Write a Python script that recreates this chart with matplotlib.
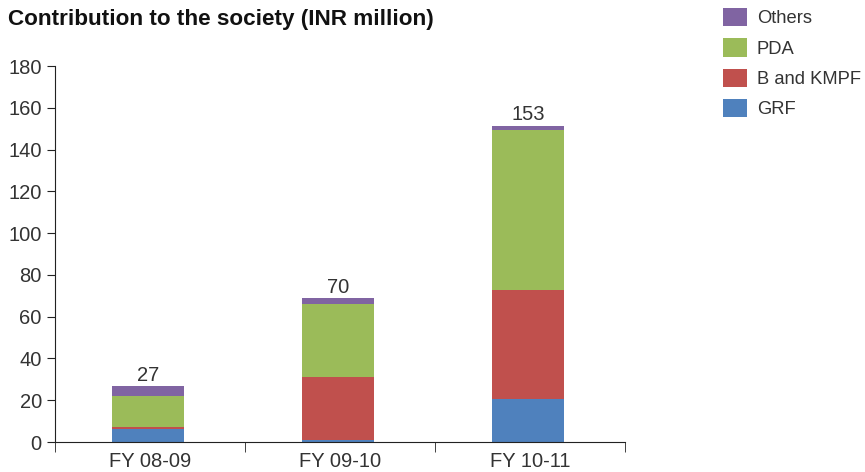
import matplotlib
matplotlib.use("Agg")
import matplotlib.pyplot as plt
import numpy as np

categories = ["FY 08-09", "FY 09-10", "FY 10-11"]
grf = [6.4, 1.0, 20.7]
b_kmpf = [1.0, 29.9, 51.9]
pda = [14.4, 35.0, 76.9]
others = [4.8, 2.9, 1.9]
totals = [27, 70, 153]
series_names = ["GRF", "B and KMPF", "PDA", "Others"]
colors = ["#4F81BD", "#C0504D", "#9BBB59", "#8064A2"]
y_ticks = [0, 20, 40, 60, 80, 100, 120, 140, 160, 180]

plt.rcParams['font.family'] = ['Liberation Sans', 'DejaVu Sans']
text_color = "#333333"
fs = 14.5

fig = plt.figure(figsize=(8.65, 4.72), dpi=100)
ax = fig.add_axes([55/865, 1-442/472, (625-55)/865, (442-66)/472])

x = np.arange(len(categories))
bottom = np.zeros(len(categories))
handles = []
for vals, name, col in zip([grf, b_kmpf, pda, others], series_names, colors):
    h = ax.bar(x - 0.01, vals, width=0.38, bottom=bottom, color=col, label=name, linewidth=0)
    handles.append(h)
    bottom += np.array(vals)

for xi, top, t in zip(x, bottom, totals):
    ax.annotate(str(t), (xi - 0.01, top), xytext=(0, 1), textcoords="offset points",
                ha="center", va="bottom", fontsize=fs, color=text_color)

ax.set_xlim(-0.5, len(categories) - 0.5)
ax.set_ylim(0, 180)
ax.set_yticks(y_ticks)
ax.set_xticks(x)
ax.set_xticklabels(categories)
ax.set_xticks(np.arange(-0.5, len(categories), 1.0), minor=True)
ax.tick_params(axis="x", which="major", length=0, labelsize=fs, labelcolor=text_color, pad=7)
ax.tick_params(axis="x", which="minor", length=7, direction="out", color="#222222")
ax.tick_params(axis="y", length=6, direction="out", labelsize=fs, labelcolor=text_color, color="#222222")
for s in ["top", "right"]:
    ax.spines[s].set_visible(False)
for s in ["left", "bottom"]:
    ax.spines[s].set_color("#222222")

fig.text(8/865, 1-19/472, "Contribution to the society (INR million)", fontsize=16.2,
         fontweight="bold", ha="left", va="center", color="#111111")

leg = fig.legend(handles[::-1], series_names[::-1], loc="upper left",
                 bbox_to_anchor=(712/865, 1+3/472), frameon=False, fontsize=13.2,
                 handlelength=1.3, handleheight=1.15, labelspacing=0.6,
                 handletextpad=0.55, labelcolor=text_color, borderaxespad=0.2)

fig.savefig("out.png", dpi=100)
